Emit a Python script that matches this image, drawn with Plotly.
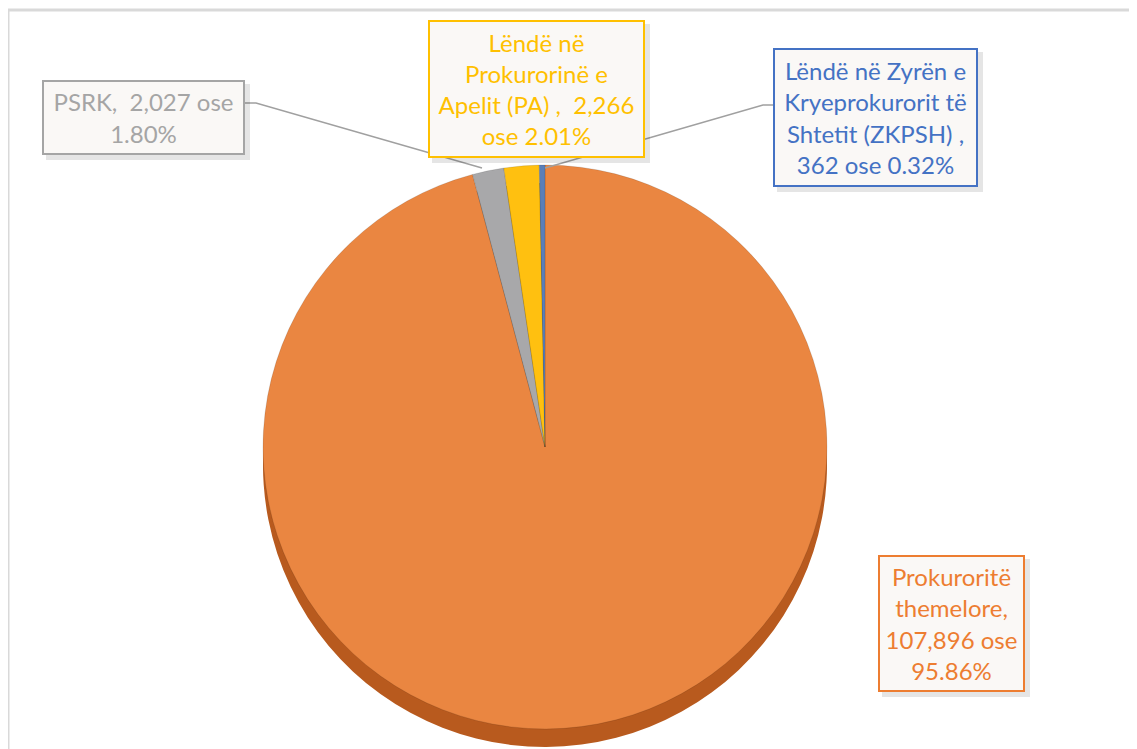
import plotly.graph_objects as go

W, H = 1137, 749

categories = [
    "Prokuroritë themelore",
    "PSRK",
    "Lëndë në Prokurorinë e Apelit (PA)",
    "Lëndë në Zyrën e Kryeprokurorit të Shtetit (ZKPSH)",
]
values = [107896, 2027, 2266, 362]
colors = ["#ED7D31", "#A5A5A5", "#FFC000", "#4472C4"]
face_colors = ["#EA8641", "#A8A8AA", "#FFC010", "#5A7FB8"]
side_colors = ["#B85A1E", "#6E6E6E", "#C99700", "#2F5597"]
label_texts = [
    "Prokuroritë<br>themelore,<br>107,896 ose<br>95.86%",
    "PSRK,  2,027 ose<br>1.80%",
    "Lëndë në<br>Prokurorinë e<br>Apelit (PA) ,  2,266<br>ose 2.01%",
    "Lëndë në Zyrën e<br>Kryeprokurorit të<br>Shtetit (ZKPSH) ,<br>362 ose 0.32%",
]
# label box geometry in pixels: (x0, y0, x1, y1) top-left origin
label_boxes = [
    (878, 555, 1025, 692),
    (42, 80, 245, 155),
    (428, 20, 645, 158),
    (773, 48, 978, 187),
]
# leader lines in pixels
leaders = [
    None,
    [(245, 103), (256, 103), (482, 168)],
    None,
    [(773, 105), (763, 105), (545, 168)],
]

OFF = 8  # page body margin


def px(x):
    return (x - OFF) / W


def py(y):
    return 1 - (y - OFF) / H


cx, cy, r, depth = 545, 447, 282, 18

fig = go.Figure()
# side (depth) of the pie
fig.add_trace(go.Pie(
    labels=categories,
    values=values,
    sort=False,
    direction="clockwise",
    rotation=0,
    marker=dict(colors=side_colors, line=dict(width=0)),
    textinfo="none",
    hoverinfo="skip",
    showlegend=False,
    domain=dict(x=[px(cx - r), px(cx + r)], y=[py(cy + depth + r), py(cy + depth - r)]),
))
# top face
fig.add_trace(go.Pie(
    labels=categories,
    values=values,
    sort=False,
    direction="clockwise",
    rotation=0,
    marker=dict(colors=face_colors, line=dict(color="rgba(0,0,0,0.2)", width=0.6)),
    textinfo="none",
    hoverinfo="label+value+percent",
    showlegend=False,
    domain=dict(x=[px(cx - r), px(cx + r)], y=[py(cy + r), py(cy - r)]),
))

shapes = [
    dict(type="rect", xref="paper", yref="paper",
         x0=px(8), x1=1.02, y0=-0.02, y1=py(10),
         line=dict(color="#D9D9D9", width=3), fillcolor="rgba(0,0,0,0)", layer="below"),
]
for pts in leaders:
    if pts is None:
        continue
    path = "M " + " L ".join(f"{px(x)},{py(y)}" for x, y in pts)
    shapes.append(dict(type="path", xref="paper", yref="paper", path=path,
                       line=dict(color="#A0A0A0", width=1.5)))

annotations = []
for txt, col, (x0, y0, x1, y1) in zip(label_texts, colors, label_boxes):
    # soft shadow
    shapes.append(dict(type="rect", xref="paper", yref="paper",
                       x0=px(x0 + 4), x1=px(x1 + 5), y0=py(y1 + 5), y1=py(y0 + 4),
                       line=dict(width=0), fillcolor="rgba(0,0,0,0.10)"))
    annotations.append(dict(
        x=px((x0 + x1) / 2), y=py((y0 + y1) / 2), xref="paper", yref="paper",
        xanchor="center", yanchor="middle",
        text=txt, showarrow=False, align="center",
        width=x1 - x0 - 4, height=y1 - y0 - 4,
        font=dict(family="Lato, Open Sans, sans-serif", size=24, color=col),
        bgcolor="#FAF8F6", bordercolor=col, borderwidth=2, borderpad=0,
    ))

fig.update_layout(
    width=W, height=H,
    margin=dict(l=0, r=0, t=0, b=0),
    paper_bgcolor="white",
    plot_bgcolor="white",
    shapes=shapes,
    annotations=annotations,
)

fig.write_html("out.html")
